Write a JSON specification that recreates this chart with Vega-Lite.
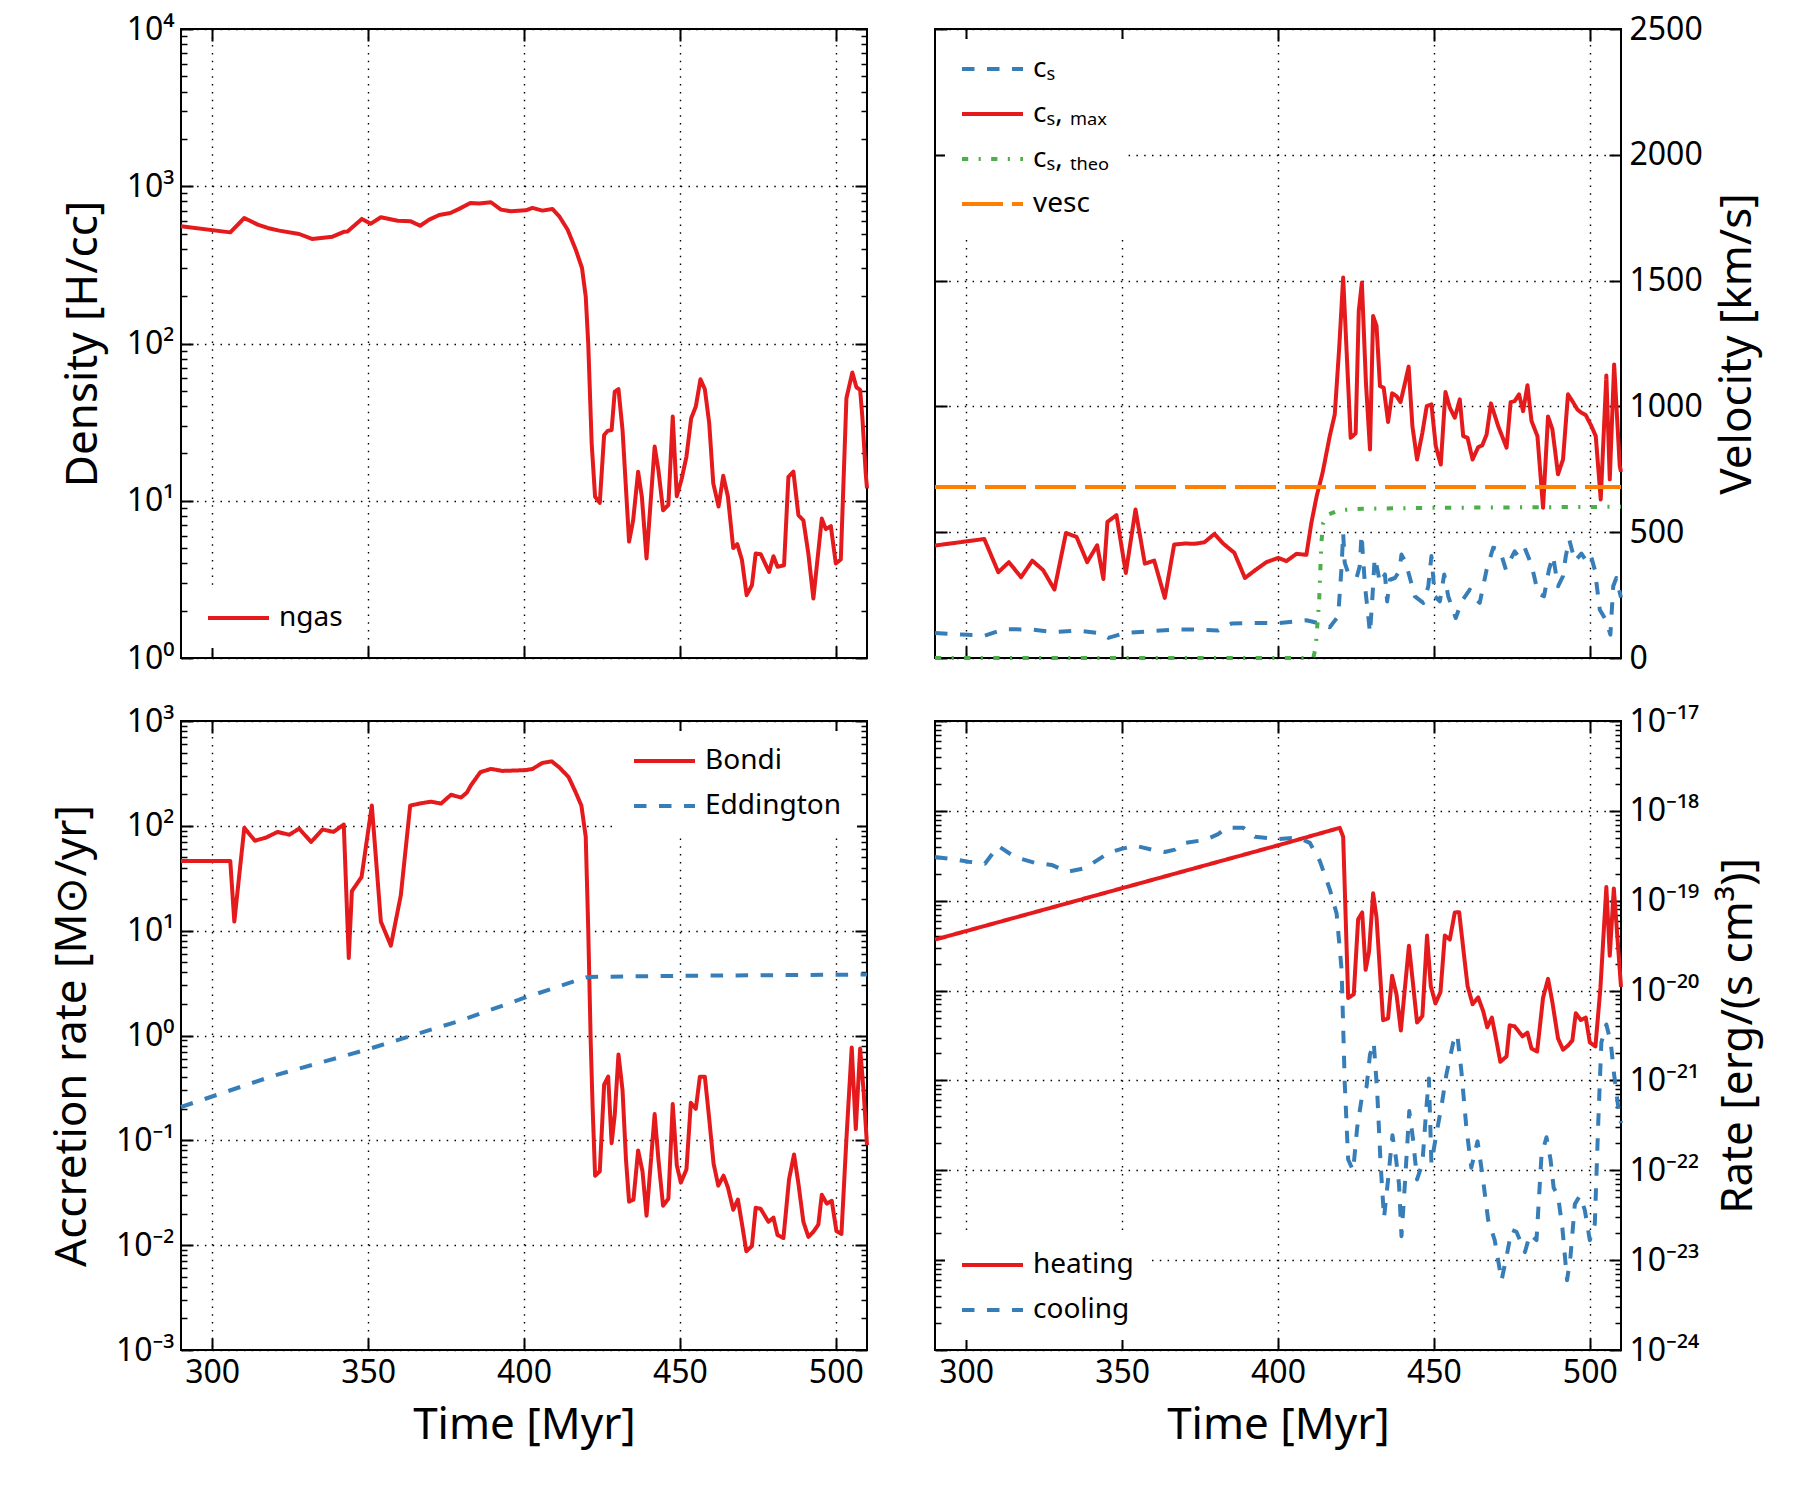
{
  "$schema": "https://vega.github.io/schema/vega-lite/v6.json",
  "padding": {"left": 49, "top": 12, "right": 5, "bottom": 5},
  "datasets": {
    "density": [
      {"t":290,"v":556,"s":"ngas"},{"t":305.8,"v":509,"s":"ngas"},{"t":310.3,"v":628,"s":"ngas"},{"t":314.6,"v":570,"s":"ngas"},{"t":317.8,"v":543,"s":"ngas"},{"t":321.5,"v":522,"s":"ngas"},{"t":327.9,"v":497,"s":"ngas"},{"t":332,"v":462,"s":"ngas"},{"t":338.6,"v":478,"s":"ngas"},{"t":342.4,"v":514,"s":"ngas"},{"t":343.4,"v":516,"s":"ngas"},{"t":348,"v":620,"s":"ngas"},{"t":350.9,"v":578,"s":"ngas"},{"t":354.1,"v":635,"s":"ngas"},{"t":359.5,"v":604,"s":"ngas"},{"t":363.7,"v":598,"s":"ngas"},{"t":366.7,"v":561,"s":"ngas"},{"t":369.6,"v":613,"s":"ngas"},{"t":372.8,"v":657,"s":"ngas"},{"t":376.4,"v":676,"s":"ngas"},{"t":379.2,"v":718,"s":"ngas"},{"t":382.8,"v":783,"s":"ngas"},{"t":385.6,"v":776,"s":"ngas"},{"t":389.4,"v":791,"s":"ngas"},{"t":392.6,"v":710,"s":"ngas"},{"t":395.8,"v":693,"s":"ngas"},{"t":400.6,"v":703,"s":"ngas"},{"t":402.7,"v":728,"s":"ngas"},{"t":405.9,"v":700,"s":"ngas"},{"t":409.1,"v":717,"s":"ngas"},{"t":411.3,"v":644,"s":"ngas"},{"t":414,"v":529,"s":"ngas"},{"t":416.6,"v":395,"s":"ngas"},{"t":418.6,"v":302,"s":"ngas"},{"t":419.8,"v":199,"s":"ngas"},{"t":420.6,"v":100,"s":"ngas"},{"t":421.7,"v":23.2,"s":"ngas"},{"t":422.8,"v":10.6,"s":"ngas"},{"t":424.3,"v":9.7,"s":"ngas"},{"t":425.7,"v":26.2,"s":"ngas"},{"t":426.8,"v":27.8,"s":"ngas"},{"t":428.1,"v":28.2,"s":"ngas"},{"t":429.1,"v":49.4,"s":"ngas"},{"t":430.3,"v":51.2,"s":"ngas"},{"t":431.6,"v":28.2,"s":"ngas"},{"t":433.7,"v":5.5,"s":"ngas"},{"t":435,"v":7.5,"s":"ngas"},{"t":436.6,"v":15.3,"s":"ngas"},{"t":437.8,"v":10.6,"s":"ngas"},{"t":439.3,"v":4.3,"s":"ngas"},{"t":441.9,"v":22.1,"s":"ngas"},{"t":443.1,"v":15.7,"s":"ngas"},{"t":444.6,"v":8.7,"s":"ngas"},{"t":446.3,"v":9.4,"s":"ngas"},{"t":447.7,"v":34.3,"s":"ngas"},{"t":449,"v":10.7,"s":"ngas"},{"t":450.5,"v":13.6,"s":"ngas"},{"t":452.1,"v":19.1,"s":"ngas"},{"t":453.6,"v":33.4,"s":"ngas"},{"t":455.1,"v":39.7,"s":"ngas"},{"t":456.6,"v":59.3,"s":"ngas"},{"t":458,"v":51.2,"s":"ngas"},{"t":459.4,"v":31.1,"s":"ngas"},{"t":460.7,"v":12.9,"s":"ngas"},{"t":462.4,"v":9.2,"s":"ngas"},{"t":463.9,"v":14.4,"s":"ngas"},{"t":465.4,"v":10.6,"s":"ngas"},{"t":467.1,"v":5.0,"s":"ngas"},{"t":468.4,"v":5.3,"s":"ngas"},{"t":469.9,"v":4.2,"s":"ngas"},{"t":471.4,"v":2.51,"s":"ngas"},{"t":473.1,"v":2.9,"s":"ngas"},{"t":474.3,"v":4.62,"s":"ngas"},{"t":475.9,"v":4.57,"s":"ngas"},{"t":478.6,"v":3.53,"s":"ngas"},{"t":480,"v":4.44,"s":"ngas"},{"t":481.3,"v":3.8,"s":"ngas"},{"t":483.4,"v":3.89,"s":"ngas"},{"t":484.8,"v":14.2,"s":"ngas"},{"t":486.4,"v":15.3,"s":"ngas"},{"t":488,"v":8.1,"s":"ngas"},{"t":489.6,"v":7.5,"s":"ngas"},{"t":491.2,"v":4.6,"s":"ngas"},{"t":492.8,"v":2.39,"s":"ngas"},{"t":495.5,"v":7.7,"s":"ngas"},{"t":496.8,"v":6.6,"s":"ngas"},{"t":498.4,"v":6.9,"s":"ngas"},{"t":500,"v":3.99,"s":"ngas"},{"t":501.6,"v":4.23,"s":"ngas"},{"t":503.4,"v":44.9,"s":"ngas"},{"t":505.3,"v":65.4,"s":"ngas"},{"t":506.6,"v":52.7,"s":"ngas"},{"t":507.8,"v":50.7,"s":"ngas"},{"t":508.5,"v":34.3,"s":"ngas"},{"t":509.6,"v":14.9,"s":"ngas"},{"t":510,"v":12,"s":"ngas"}
    ],
    "velocity": [
      {"t":290,"v":99,"s":"cₛ"},{"t":298.5,"v":93,"s":"cₛ"},{"t":306,"v":89,"s":"cₛ"},{"t":312.4,"v":115,"s":"cₛ"},{"t":321,"v":113,"s":"cₛ"},{"t":328.5,"v":103,"s":"cₛ"},{"t":336,"v":109,"s":"cₛ"},{"t":342.9,"v":99,"s":"cₛ"},{"t":345.6,"v":80,"s":"cₛ"},{"t":350.9,"v":99,"s":"cₛ"},{"t":358.4,"v":106,"s":"cₛ"},{"t":367,"v":113,"s":"cₛ"},{"t":374.4,"v":113,"s":"cₛ"},{"t":380.8,"v":109,"s":"cₛ"},{"t":385.1,"v":137,"s":"cₛ"},{"t":389.4,"v":139,"s":"cₛ"},{"t":400.1,"v":139,"s":"cₛ"},{"t":409.1,"v":150,"s":"cₛ"},{"t":412.9,"v":139,"s":"cₛ"},{"t":416.6,"v":122,"s":"cₛ"},{"t":419.3,"v":166,"s":"cₛ"},{"t":420.4,"v":365,"s":"cₛ"},{"t":420.9,"v":497,"s":"cₛ"},{"t":421.4,"v":378,"s":"cₛ"},{"t":422.5,"v":338,"s":"cₛ"},{"t":425.2,"v":318,"s":"cₛ"},{"t":426.2,"v":365,"s":"cₛ"},{"t":426.8,"v":491,"s":"cₛ"},{"t":427.9,"v":285,"s":"cₛ"},{"t":428.9,"v":172,"s":"cₛ"},{"t":429.5,"v":99,"s":"cₛ"},{"t":430.3,"v":245,"s":"cₛ"},{"t":431,"v":398,"s":"cₛ"},{"t":431.9,"v":351,"s":"cₛ"},{"t":432.7,"v":298,"s":"cₛ"},{"t":434.3,"v":332,"s":"cₛ"},{"t":435,"v":225,"s":"cₛ"},{"t":435.9,"v":311,"s":"cₛ"},{"t":437.5,"v":318,"s":"cₛ"},{"t":438.9,"v":345,"s":"cₛ"},{"t":439.6,"v":411,"s":"cₛ"},{"t":441,"v":378,"s":"cₛ"},{"t":443.9,"v":245,"s":"cₛ"},{"t":446.6,"v":219,"s":"cₛ"},{"t":448.2,"v":285,"s":"cₛ"},{"t":449.2,"v":405,"s":"cₛ"},{"t":450.3,"v":245,"s":"cₛ"},{"t":451.9,"v":225,"s":"cₛ"},{"t":453.3,"v":332,"s":"cₛ"},{"t":454.6,"v":245,"s":"cₛ"},{"t":457,"v":159,"s":"cₛ"},{"t":458.9,"v":225,"s":"cₛ"},{"t":461.5,"v":272,"s":"cₛ"},{"t":463.1,"v":239,"s":"cₛ"},{"t":464.7,"v":219,"s":"cₛ"},{"t":466.9,"v":351,"s":"cₛ"},{"t":469,"v":438,"s":"cₛ"},{"t":471.1,"v":431,"s":"cₛ"},{"t":473.1,"v":351,"s":"cₛ"},{"t":474.3,"v":385,"s":"cₛ"},{"t":475.9,"v":424,"s":"cₛ"},{"t":477,"v":405,"s":"cₛ"},{"t":479.1,"v":438,"s":"cₛ"},{"t":481.3,"v":371,"s":"cₛ"},{"t":483.4,"v":258,"s":"cₛ"},{"t":485.3,"v":245,"s":"cₛ"},{"t":486.9,"v":351,"s":"cₛ"},{"t":488.2,"v":405,"s":"cₛ"},{"t":489.8,"v":285,"s":"cₛ"},{"t":491.4,"v":325,"s":"cₛ"},{"t":492.3,"v":405,"s":"cₛ"},{"t":493.4,"v":471,"s":"cₛ"},{"t":495.2,"v":385,"s":"cₛ"},{"t":497.3,"v":415,"s":"cₛ"},{"t":498.9,"v":385,"s":"cₛ"},{"t":500.3,"v":408,"s":"cₛ"},{"t":501.6,"v":351,"s":"cₛ"},{"t":503.2,"v":192,"s":"cₛ"},{"t":505.1,"v":152,"s":"cₛ"},{"t":506.6,"v":93,"s":"cₛ"},{"t":507.5,"v":285,"s":"cₛ"},{"t":508.5,"v":318,"s":"cₛ"},{"t":510,"v":240,"s":"cₛ"},
      {"t":290,"v":447,"s":"cₛ, ₘₐₓ"},{"t":305.8,"v":473,"s":"cₛ, ₘₐₓ"},{"t":310.3,"v":341,"s":"cₛ, ₘₐₓ"},{"t":313.7,"v":381,"s":"cₛ, ₘₐₓ"},{"t":317.6,"v":321,"s":"cₛ, ₘₐₓ"},{"t":321.2,"v":387,"s":"cₛ, ₘₐₓ"},{"t":324.7,"v":349,"s":"cₛ, ₘₐₓ"},{"t":328.3,"v":272,"s":"cₛ, ₘₐₓ"},{"t":332,"v":497,"s":"cₛ, ₘₐₓ"},{"t":335.4,"v":481,"s":"cₛ, ₘₐₓ"},{"t":338.8,"v":381,"s":"cₛ, ₘₐₓ"},{"t":342,"v":448,"s":"cₛ, ₘₐₓ"},{"t":344,"v":314,"s":"cₛ, ₘₐₓ"},{"t":345.3,"v":541,"s":"cₛ, ₘₐₓ"},{"t":348.2,"v":568,"s":"cₛ, ₘₐₓ"},{"t":351.2,"v":338,"s":"cₛ, ₘₐₓ"},{"t":354.3,"v":590,"s":"cₛ, ₘₐₓ"},{"t":357.3,"v":375,"s":"cₛ, ₘₐₓ"},{"t":360.3,"v":387,"s":"cₛ, ₘₐₓ"},{"t":363.7,"v":239,"s":"cₛ, ₘₐₓ"},{"t":366.7,"v":451,"s":"cₛ, ₘₐₓ"},{"t":370.2,"v":455,"s":"cₛ, ₘₐₓ"},{"t":373.4,"v":454,"s":"cₛ, ₘₐₓ"},{"t":376.4,"v":460,"s":"cₛ, ₘₐₓ"},{"t":379.6,"v":493,"s":"cₛ, ₘₐₓ"},{"t":382.4,"v":455,"s":"cₛ, ₘₐₓ"},{"t":386,"v":418,"s":"cₛ, ₘₐₓ"},{"t":389.4,"v":318,"s":"cₛ, ₘₐₓ"},{"t":392.9,"v":351,"s":"cₛ, ₘₐₓ"},{"t":396.3,"v":381,"s":"cₛ, ₘₐₓ"},{"t":400.1,"v":398,"s":"cₛ, ₘₐₓ"},{"t":402.7,"v":385,"s":"cₛ, ₘₐₓ"},{"t":405.9,"v":414,"s":"cₛ, ₘₐₓ"},{"t":409.1,"v":410,"s":"cₛ, ₘₐₓ"},{"t":410.7,"v":537,"s":"cₛ, ₘₐₓ"},{"t":412.4,"v":643,"s":"cₛ, ₘₐₓ"},{"t":414.3,"v":736,"s":"cₛ, ₘₐₓ"},{"t":416.6,"v":882,"s":"cₛ, ₘₐₓ"},{"t":418.2,"v":968,"s":"cₛ, ₘₐₓ"},{"t":419.6,"v":1227,"s":"cₛ, ₘₐₓ"},{"t":420.9,"v":1512,"s":"cₛ, ₘₐₓ"},{"t":423.3,"v":875,"s":"cₛ, ₘₐₓ"},{"t":424.9,"v":893,"s":"cₛ, ₘₐₓ"},{"t":425.9,"v":1379,"s":"cₛ, ₘₐₓ"},{"t":426.9,"v":1492,"s":"cₛ, ₘₐₓ"},{"t":428.2,"v":1094,"s":"cₛ, ₘₐₓ"},{"t":429.5,"v":829,"s":"cₛ, ₘₐₓ"},{"t":430.5,"v":1359,"s":"cₛ, ₘₐₓ"},{"t":431.6,"v":1320,"s":"cₛ, ₘₐₓ"},{"t":432.7,"v":1081,"s":"cₛ, ₘₐₓ"},{"t":433.9,"v":1074,"s":"cₛ, ₘₐₓ"},{"t":435.3,"v":938,"s":"cₛ, ₘₐₓ"},{"t":436.6,"v":1052,"s":"cₛ, ₘₐₓ"},{"t":438,"v":1041,"s":"cₛ, ₘₐₓ"},{"t":439.3,"v":1017,"s":"cₛ, ₘₐₓ"},{"t":440.5,"v":1081,"s":"cₛ, ₘₐₓ"},{"t":441.9,"v":1158,"s":"cₛ, ₘₐₓ"},{"t":443.1,"v":922,"s":"cₛ, ₘₐₓ"},{"t":444.6,"v":789,"s":"cₛ, ₘₐₓ"},{"t":446.3,"v":895,"s":"cₛ, ₘₐₓ"},{"t":447.7,"v":1001,"s":"cₛ, ₘₐₓ"},{"t":449.2,"v":1008,"s":"cₛ, ₘₐₓ"},{"t":450.6,"v":842,"s":"cₛ, ₘₐₓ"},{"t":452.2,"v":769,"s":"cₛ, ₘₐₓ"},{"t":453.7,"v":1057,"s":"cₛ, ₘₐₓ"},{"t":455.1,"v":995,"s":"cₛ, ₘₐₓ"},{"t":456.7,"v":955,"s":"cₛ, ₘₐₓ"},{"t":458.3,"v":1028,"s":"cₛ, ₘₐₓ"},{"t":459.4,"v":882,"s":"cₛ, ₘₐₓ"},{"t":460.8,"v":875,"s":"cₛ, ₘₐₓ"},{"t":462.4,"v":789,"s":"cₛ, ₘₐₓ"},{"t":464.2,"v":838,"s":"cₛ, ₘₐₓ"},{"t":465.5,"v":845,"s":"cₛ, ₘₐₓ"},{"t":466.9,"v":888,"s":"cₛ, ₘₐₓ"},{"t":468.3,"v":1012,"s":"cₛ, ₘₐₓ"},{"t":470.6,"v":922,"s":"cₛ, ₘₐₓ"},{"t":473.3,"v":836,"s":"cₛ, ₘₐₓ"},{"t":474.6,"v":1017,"s":"cₛ, ₘₐₓ"},{"t":475.9,"v":1021,"s":"cₛ, ₘₐₓ"},{"t":477.3,"v":1048,"s":"cₛ, ₘₐₓ"},{"t":478.6,"v":981,"s":"cₛ, ₘₐₓ"},{"t":480,"v":1084,"s":"cₛ, ₘₐₓ"},{"t":481.3,"v":942,"s":"cₛ, ₘₐₓ"},{"t":483.2,"v":882,"s":"cₛ, ₘₐₓ"},{"t":485,"v":597,"s":"cₛ, ₘₐₓ"},{"t":486.6,"v":960,"s":"cₛ, ₘₐₓ"},{"t":488,"v":909,"s":"cₛ, ₘₐₓ"},{"t":489.8,"v":730,"s":"cₛ, ₘₐₓ"},{"t":491.4,"v":789,"s":"cₛ, ₘₐₓ"},{"t":493,"v":1048,"s":"cₛ, ₘₐₓ"},{"t":494.4,"v":1021,"s":"cₛ, ₘₐₓ"},{"t":496,"v":988,"s":"cₛ, ₘₐₓ"},{"t":497.3,"v":975,"s":"cₛ, ₘₐₓ"},{"t":498.7,"v":965,"s":"cₛ, ₘₐₓ"},{"t":500.5,"v":922,"s":"cₛ, ₘₐₓ"},{"t":501.9,"v":882,"s":"cₛ, ₘₐₓ"},{"t":503.5,"v":630,"s":"cₛ, ₘₐₓ"},{"t":505.3,"v":1123,"s":"cₛ, ₘₐₓ"},{"t":506.4,"v":710,"s":"cₛ, ₘₐₓ"},{"t":507.8,"v":1167,"s":"cₛ, ₘₐₓ"},{"t":509.6,"v":763,"s":"cₛ, ₘₐₓ"},{"t":510,"v":740,"s":"cₛ, ₘₐₓ"},
      {"t":290,"v":0,"s":"cₛ, ₜₕₑₒ"},{"t":411.3,"v":0,"s":"cₛ, ₜₕₑₒ"},{"t":412.1,"v":42,"s":"cₛ, ₜₕₑₒ"},{"t":413.2,"v":228,"s":"cₛ, ₜₕₑₒ"},{"t":413.9,"v":457,"s":"cₛ, ₜₕₑₒ"},{"t":414.5,"v":537,"s":"cₛ, ₜₕₑₒ"},{"t":416.1,"v":570,"s":"cₛ, ₜₕₑₒ"},{"t":419.8,"v":588,"s":"cₛ, ₜₕₑₒ"},{"t":427.3,"v":593,"s":"cₛ, ₜₕₑₒ"},{"t":449.8,"v":597,"s":"cₛ, ₜₕₑₒ"},{"t":510,"v":601,"s":"cₛ, ₜₕₑₒ"},
      {"t":290,"v":680,"s":"vesc"},{"t":510,"v":680,"s":"vesc"}
    ],
    "accretion": [
      {"t":290,"v":46.3,"s":"Bondi"},{"t":305.8,"v":46.3,"s":"Bondi"},{"t":307.1,"v":12.2,"s":"Bondi"},{"t":310.3,"v":95.7,"s":"Bondi"},{"t":313.7,"v":72.1,"s":"Bondi"},{"t":317.3,"v":77.3,"s":"Bondi"},{"t":321,"v":87.5,"s":"Bondi"},{"t":324.7,"v":82.2,"s":"Bondi"},{"t":327.9,"v":94,"s":"Bondi"},{"t":331.7,"v":70.2,"s":"Bondi"},{"t":335.4,"v":92.3,"s":"Bondi"},{"t":338.9,"v":87.5,"s":"Bondi"},{"t":342.2,"v":103,"s":"Bondi"},{"t":343.8,"v":5.5,"s":"Bondi"},{"t":344.8,"v":23.8,"s":"Bondi"},{"t":347.9,"v":32.5,"s":"Bondi"},{"t":351.2,"v":156,"s":"Bondi"},{"t":354.1,"v":12.2,"s":"Bondi"},{"t":357.3,"v":7.2,"s":"Bondi"},{"t":360.5,"v":21.8,"s":"Bondi"},{"t":363.5,"v":156,"s":"Bondi"},{"t":366.9,"v":164,"s":"Bondi"},{"t":370.2,"v":170,"s":"Bondi"},{"t":373.4,"v":163,"s":"Bondi"},{"t":376.6,"v":198,"s":"Bondi"},{"t":379.8,"v":186,"s":"Bondi"},{"t":381.7,"v":208,"s":"Bondi"},{"t":383,"v":244,"s":"Bondi"},{"t":386,"v":325,"s":"Bondi"},{"t":389.4,"v":349,"s":"Bondi"},{"t":393.1,"v":334,"s":"Bondi"},{"t":400.6,"v":340,"s":"Bondi"},{"t":402.7,"v":349,"s":"Bondi"},{"t":405.9,"v":398,"s":"Bondi"},{"t":408.9,"v":412,"s":"Bondi"},{"t":411.3,"v":361,"s":"Bondi"},{"t":414.3,"v":292,"s":"Bondi"},{"t":416.6,"v":208,"s":"Bondi"},{"t":418.4,"v":156,"s":"Bondi"},{"t":419.8,"v":78.7,"s":"Bondi"},{"t":420.6,"v":10.3,"s":"Bondi"},{"t":421.4,"v":0.86,"s":"Bondi"},{"t":422,"v":0.21,"s":"Bondi"},{"t":422.8,"v":0.046,"s":"Bondi"},{"t":424.3,"v":0.0506,"s":"Bondi"},{"t":425.7,"v":0.34,"s":"Bondi"},{"t":427,"v":0.405,"s":"Bondi"},{"t":428.1,"v":0.094,"s":"Bondi"},{"t":429.1,"v":0.175,"s":"Bondi"},{"t":430.3,"v":0.66,"s":"Bondi"},{"t":431.6,"v":0.3,"s":"Bondi"},{"t":432.7,"v":0.066,"s":"Bondi"},{"t":433.7,"v":0.026,"s":"Bondi"},{"t":435.1,"v":0.0272,"s":"Bondi"},{"t":436.6,"v":0.08,"s":"Bondi"},{"t":438,"v":0.0506,"s":"Bondi"},{"t":439.3,"v":0.0191,"s":"Bondi"},{"t":441.9,"v":0.178,"s":"Bondi"},{"t":443.1,"v":0.066,"s":"Bondi"},{"t":444.6,"v":0.0238,"s":"Bondi"},{"t":446.3,"v":0.0277,"s":"Bondi"},{"t":447.7,"v":0.222,"s":"Bondi"},{"t":449,"v":0.0578,"s":"Bondi"},{"t":450.3,"v":0.0395,"s":"Bondi"},{"t":452.1,"v":0.0528,"s":"Bondi"},{"t":453.5,"v":0.228,"s":"Bondi"},{"t":455.1,"v":0.2,"s":"Bondi"},{"t":456.4,"v":0.405,"s":"Bondi"},{"t":458,"v":0.405,"s":"Bondi"},{"t":459.4,"v":0.16,"s":"Bondi"},{"t":460.8,"v":0.06,"s":"Bondi"},{"t":462.3,"v":0.037,"s":"Bondi"},{"t":464,"v":0.046,"s":"Bondi"},{"t":465.4,"v":0.0355,"s":"Bondi"},{"t":467.1,"v":0.0218,"s":"Bondi"},{"t":468.6,"v":0.0272,"s":"Bondi"},{"t":469.9,"v":0.016,"s":"Bondi"},{"t":471.3,"v":0.00875,"s":"Bondi"},{"t":473.1,"v":0.0098,"s":"Bondi"},{"t":474.3,"v":0.0228,"s":"Bondi"},{"t":475.9,"v":0.0222,"s":"Bondi"},{"t":478.4,"v":0.0167,"s":"Bondi"},{"t":480,"v":0.0183,"s":"Bondi"},{"t":481.3,"v":0.0125,"s":"Bondi"},{"t":483.2,"v":0.0117,"s":"Bondi"},{"t":485,"v":0.0424,"s":"Bondi"},{"t":486.6,"v":0.0733,"s":"Bondi"},{"t":488,"v":0.0388,"s":"Bondi"},{"t":489.6,"v":0.0167,"s":"Bondi"},{"t":491.2,"v":0.012,"s":"Bondi"},{"t":492.8,"v":0.0134,"s":"Bondi"},{"t":494.4,"v":0.0157,"s":"Bondi"},{"t":495.5,"v":0.0303,"s":"Bondi"},{"t":497.1,"v":0.0249,"s":"Bondi"},{"t":498.7,"v":0.0265,"s":"Bondi"},{"t":500.2,"v":0.0136,"s":"Bondi"},{"t":501.8,"v":0.0128,"s":"Bondi"},{"t":503.4,"v":0.103,"s":"Bondi"},{"t":505.1,"v":0.77,"s":"Bondi"},{"t":506.4,"v":0.128,"s":"Bondi"},{"t":507.8,"v":0.75,"s":"Bondi"},{"t":508.9,"v":0.297,"s":"Bondi"},{"t":510,"v":0.09,"s":"Bondi"},
      {"t":290,"v":0.208,"s":"Eddington"},{"t":320,"v":0.416,"s":"Eddington"},{"t":350,"v":0.74,"s":"Eddington"},{"t":380,"v":1.4,"s":"Eddington"},{"t":400,"v":2.28,"s":"Eddington"},{"t":419.8,"v":3.58,"s":"Eddington"},{"t":421,"v":3.62,"s":"Eddington"},{"t":450,"v":3.71,"s":"Eddington"},{"t":480,"v":3.76,"s":"Eddington"},{"t":510,"v":3.82,"s":"Eddington"}
    ],
    "rates": [
      {"t":290,"v":3.69e-20,"s":"heating"},{"t":400.6,"v":4.19e-19,"s":"heating"},{"t":419.8,"v":6.47e-19,"s":"heating"},{"t":420.9,"v":5.15e-19,"s":"heating"},{"t":422.5,"v":8.26e-21,"s":"heating"},{"t":424.3,"v":9.1e-21,"s":"heating"},{"t":425.7,"v":6.2e-20,"s":"heating"},{"t":427,"v":7.4e-20,"s":"heating"},{"t":428.1,"v":1.7e-20,"s":"heating"},{"t":429.2,"v":2.71e-20,"s":"heating"},{"t":430.5,"v":1.21e-19,"s":"heating"},{"t":431.6,"v":6.5e-20,"s":"heating"},{"t":432.7,"v":1.62e-20,"s":"heating"},{"t":433.7,"v":4.68e-21,"s":"heating"},{"t":435.3,"v":4.9e-21,"s":"heating"},{"t":436.6,"v":1.46e-20,"s":"heating"},{"t":438,"v":9.1e-21,"s":"heating"},{"t":439.4,"v":3.6e-21,"s":"heating"},{"t":442,"v":3.16e-20,"s":"heating"},{"t":443.1,"v":1.38e-20,"s":"heating"},{"t":444.6,"v":4.4e-21,"s":"heating"},{"t":446.3,"v":5.2e-21,"s":"heating"},{"t":447.8,"v":4.1e-20,"s":"heating"},{"t":449,"v":1.12e-20,"s":"heating"},{"t":450.5,"v":7.2e-21,"s":"heating"},{"t":452.1,"v":9.6e-21,"s":"heating"},{"t":453.5,"v":4.1e-20,"s":"heating"},{"t":455.1,"v":3.7e-20,"s":"heating"},{"t":456.7,"v":7.4e-20,"s":"heating"},{"t":458.1,"v":7.45e-20,"s":"heating"},{"t":459.6,"v":2.57e-20,"s":"heating"},{"t":460.8,"v":1.12e-20,"s":"heating"},{"t":462.4,"v":7.06e-21,"s":"heating"},{"t":464.2,"v":8.4e-21,"s":"heating"},{"t":465.8,"v":5.9e-21,"s":"heating"},{"t":467.1,"v":3.9e-21,"s":"heating"},{"t":468.6,"v":5.0e-21,"s":"heating"},{"t":469.9,"v":2.94e-21,"s":"heating"},{"t":471.3,"v":1.61e-21,"s":"heating"},{"t":473.3,"v":1.85e-21,"s":"heating"},{"t":474.3,"v":4.1e-21,"s":"heating"},{"t":475.9,"v":4.0e-21,"s":"heating"},{"t":478.4,"v":3.1e-21,"s":"heating"},{"t":480,"v":3.4e-21,"s":"heating"},{"t":481.3,"v":2.26e-21,"s":"heating"},{"t":483.1,"v":2.1e-21,"s":"heating"},{"t":485,"v":8.3e-21,"s":"heating"},{"t":486.6,"v":1.35e-20,"s":"heating"},{"t":488,"v":7.4e-21,"s":"heating"},{"t":489.8,"v":2.94e-21,"s":"heating"},{"t":491.4,"v":2.2e-21,"s":"heating"},{"t":493,"v":2.44e-21,"s":"heating"},{"t":494.4,"v":2.79e-21,"s":"heating"},{"t":495.5,"v":5.6e-21,"s":"heating"},{"t":497.1,"v":4.7e-21,"s":"heating"},{"t":498.7,"v":5.0e-21,"s":"heating"},{"t":500,"v":2.65e-21,"s":"heating"},{"t":501.8,"v":2.39e-21,"s":"heating"},{"t":503.4,"v":1.07e-20,"s":"heating"},{"t":505.3,"v":1.42e-19,"s":"heating"},{"t":506.4,"v":2.44e-20,"s":"heating"},{"t":507.7,"v":1.37e-19,"s":"heating"},{"t":508.9,"v":3.7e-20,"s":"heating"},{"t":510,"v":1.1e-20,"s":"heating"},
      {"t":290,"v":3.07e-19,"s":"cooling"},{"t":295.3,"v":2.92e-19,"s":"cooling"},{"t":300.7,"v":2.72e-19,"s":"cooling"},{"t":306,"v":2.58e-19,"s":"cooling"},{"t":310.3,"v":4.06e-19,"s":"cooling"},{"t":315.6,"v":3.07e-19,"s":"cooling"},{"t":322.1,"v":2.63e-19,"s":"cooling"},{"t":327.4,"v":2.5e-19,"s":"cooling"},{"t":332.5,"v":2.1e-19,"s":"cooling"},{"t":338.1,"v":2.3e-19,"s":"cooling"},{"t":345.6,"v":3.4e-19,"s":"cooling"},{"t":349.8,"v":3.77e-19,"s":"cooling"},{"t":354.1,"v":4.1e-19,"s":"cooling"},{"t":359.5,"v":3.7e-19,"s":"cooling"},{"t":363.7,"v":3.48e-19,"s":"cooling"},{"t":366.9,"v":3.7e-19,"s":"cooling"},{"t":370.2,"v":4.41e-19,"s":"cooling"},{"t":376.6,"v":4.75e-19,"s":"cooling"},{"t":380.8,"v":5.5e-19,"s":"cooling"},{"t":383.5,"v":6.47e-19,"s":"cooling"},{"t":388.9,"v":6.47e-19,"s":"cooling"},{"t":392.6,"v":5.15e-19,"s":"cooling"},{"t":400.1,"v":4.84e-19,"s":"cooling"},{"t":406.5,"v":5.04e-19,"s":"cooling"},{"t":410.2,"v":4.41e-19,"s":"cooling"},{"t":413.4,"v":2.77e-19,"s":"cooling"},{"t":416.6,"v":1.34e-19,"s":"cooling"},{"t":418.8,"v":7.2e-20,"s":"cooling"},{"t":420.4,"v":1.7e-20,"s":"cooling"},{"t":421.4,"v":9.4e-22,"s":"cooling"},{"t":422.5,"v":1.32e-22,"s":"cooling"},{"t":424.1,"v":9.9e-23,"s":"cooling"},{"t":425.4,"v":3.0e-22,"s":"cooling"},{"t":426.8,"v":6.2e-22,"s":"cooling"},{"t":428.4,"v":8.5e-22,"s":"cooling"},{"t":429.5,"v":1.94e-21,"s":"cooling"},{"t":430.7,"v":2.65e-21,"s":"cooling"},{"t":431.8,"v":7.65e-22,"s":"cooling"},{"t":432.9,"v":1.19e-22,"s":"cooling"},{"t":434,"v":2.95e-23,"s":"cooling"},{"t":435.3,"v":7.9e-23,"s":"cooling"},{"t":436.7,"v":2.46e-22,"s":"cooling"},{"t":437.8,"v":1.39e-22,"s":"cooling"},{"t":438.8,"v":7.1e-23,"s":"cooling"},{"t":439.6,"v":1.85e-23,"s":"cooling"},{"t":440.7,"v":7.1e-23,"s":"cooling"},{"t":442.1,"v":4.57e-22,"s":"cooling"},{"t":443.3,"v":2.22e-22,"s":"cooling"},{"t":444.6,"v":7.9e-23,"s":"cooling"},{"t":446.3,"v":1.19e-22,"s":"cooling"},{"t":447.6,"v":5.07e-22,"s":"cooling"},{"t":448.4,"v":1.05e-21,"s":"cooling"},{"t":449.2,"v":1.19e-22,"s":"cooling"},{"t":450.6,"v":2.33e-22,"s":"cooling"},{"t":452.4,"v":5.1e-22,"s":"cooling"},{"t":454,"v":1.16e-21,"s":"cooling"},{"t":456.2,"v":2.65e-21,"s":"cooling"},{"t":457.5,"v":3.25e-21,"s":"cooling"},{"t":458.8,"v":1.28e-21,"s":"cooling"},{"t":460.4,"v":3.0e-22,"s":"cooling"},{"t":462,"v":1.07e-22,"s":"cooling"},{"t":464,"v":2.1e-22,"s":"cooling"},{"t":465.6,"v":8.7e-23,"s":"cooling"},{"t":467.4,"v":2.8e-23,"s":"cooling"},{"t":469.5,"v":1.67e-23,"s":"cooling"},{"t":471.7,"v":5.96e-24,"s":"cooling"},{"t":473.3,"v":1.1e-23,"s":"cooling"},{"t":474.9,"v":2.17e-23,"s":"cooling"},{"t":476.5,"v":2.06e-23,"s":"cooling"},{"t":479.2,"v":1.23e-23,"s":"cooling"},{"t":480.8,"v":1.95e-23,"s":"cooling"},{"t":482.9,"v":1.67e-23,"s":"cooling"},{"t":484.5,"v":1.47e-22,"s":"cooling"},{"t":486.1,"v":2.33e-22,"s":"cooling"},{"t":487.4,"v":1.32e-22,"s":"cooling"},{"t":488.4,"v":6.4e-23,"s":"cooling"},{"t":489.8,"v":5.2e-23,"s":"cooling"},{"t":491.2,"v":2.28e-23,"s":"cooling"},{"t":492.7,"v":5.96e-24,"s":"cooling"},{"t":493.8,"v":1.1e-23,"s":"cooling"},{"t":495.2,"v":4.2e-23,"s":"cooling"},{"t":496.8,"v":5.2e-23,"s":"cooling"},{"t":498.4,"v":3.6e-23,"s":"cooling"},{"t":500,"v":1.67e-23,"s":"cooling"},{"t":501.6,"v":2.53e-23,"s":"cooling"},{"t":502.7,"v":3.35e-22,"s":"cooling"},{"t":503.7,"v":2.65e-21,"s":"cooling"},{"t":505.3,"v":4.2e-21,"s":"cooling"},{"t":506.7,"v":2.65e-21,"s":"cooling"},{"t":507.8,"v":1.16e-21,"s":"cooling"},{"t":509.1,"v":5.1e-22,"s":"cooling"},{"t":510,"v":3.35e-22,"s":"cooling"}
    ]
  },
  "columns": 2,
  "spacing": {"row": 63, "column": 68},
  "bounds": "flush",
  "concat": [
    {
      "width": 686, "height": 629,
      "data": {"name": "density"},
      "layer": [
        {
          "mark": {"type": "line"},
          "encoding": {
            "x": {"field": "t", "type": "quantitative", "scale": {"domain": [290, 510], "nice": false, "zero": false},
                  "axis": {"orient": "bottom", "values": [300, 350, 400, 450, 500], "grid": true, "labels": false, "title": null}},
            "y": {"field": "v", "type": "quantitative", "scale": {"type": "log", "domain": [1, 10000], "nice": false},
                  "axis": {"orient": "left", "values": [1, 10, 100, 1000, 10000], "grid": true, "labelPadding": 19, "title": "Density [H/cc]", "titlePadding": 21,
                           "labelExpr": "'10' + replace(replace(replace(replace(replace(replace(replace(replace(replace(replace(replace('' + round(log(datum.value) / LN10), regexp('-', 'g'), '⁻'), regexp('0', 'g'), '⁰'), regexp('1', 'g'), '¹'), regexp('2', 'g'), '²'), regexp('3', 'g'), '³'), regexp('4', 'g'), '⁴'), regexp('5', 'g'), '⁵'), regexp('6', 'g'), '⁶'), regexp('7', 'g'), '⁷'), regexp('8', 'g'), '⁸'), regexp('9', 'g'), '⁹')"}},
            "color": {"field": "s", "type": "nominal", "scale": {"domain": ["ngas"], "range": ["#e41a1c"]}, "legend": {"title": null, "orient": "bottom-left"}}
          }
        },
        {
          "mark": {"type": "line", "opacity": 0},
          "encoding": {
            "x": {"field": "t", "type": "quantitative", "scale": {"domain": [290, 510], "nice": false, "zero": false},
                  "axis": {"orient": "top", "values": [300, 350, 400, 450, 500], "grid": false, "labels": false, "title": null}},
            "y": {"field": "v", "type": "quantitative", "scale": {"type": "log", "domain": [1, 10000], "nice": false},
                  "axis": {"orient": "right", "values": [1, 10, 100, 1000, 10000], "grid": false, "labels": false, "title": null}}
          }
        },
        {
          "mark": {"type": "line", "opacity": 0},
          "encoding": {
            "x": {"field": "t", "type": "quantitative", "axis": null},
            "y": {"field": "v", "type": "quantitative",
                  "axis": {"orient": "left", "values": [2,3,4,5,6,7,8,9,20,30,40,50,60,70,80,90,200,300,400,500,600,700,800,900,2000,3000,4000,5000,6000,7000,8000,9000], "grid": false, "labels": false, "title": null, "tickSize": -6, "tickWidth": 1.5}}
          }
        },
        {
          "mark": {"type": "line", "opacity": 0},
          "encoding": {
            "x": {"field": "t", "type": "quantitative", "axis": null},
            "y": {"field": "v", "type": "quantitative",
                  "axis": {"orient": "right", "values": [2,3,4,5,6,7,8,9,20,30,40,50,60,70,80,90,200,300,400,500,600,700,800,900,2000,3000,4000,5000,6000,7000,8000,9000], "grid": false, "labels": false, "title": null, "tickSize": -6, "tickWidth": 1.5}}
          }
        }
      ],
      "resolve": {"axis": {"x": "independent", "y": "independent"}}
    },
    {
      "width": 686, "height": 629,
      "data": {"name": "velocity"},
      "layer": [
        {
          "mark": {"type": "line"},
          "encoding": {
            "x": {"field": "t", "type": "quantitative", "scale": {"domain": [290, 510], "nice": false, "zero": false},
                  "axis": {"orient": "bottom", "values": [300, 350, 400, 450, 500], "grid": true, "labels": false, "title": null}},
            "y": {"field": "v", "type": "quantitative", "scale": {"domain": [0, 2500], "nice": false},
                  "axis": {"orient": "right", "values": [0, 500, 1000, 1500, 2000, 2500], "format": "d", "grid": true, "labelPadding": 20, "title": "Velocity [km/s]", "titlePadding": 13, "titleAngle": 270, "titleBaseline": "top"}},
            "color": {"field": "s", "type": "nominal", "scale": {"domain": ["cₛ", "cₛ, ₘₐₓ", "cₛ, ₜₕₑₒ", "vesc"], "range": ["#377eb8", "#e41a1c", "#4daf4a", "#ff7f00"]}, "legend": {"title": null, "orient": "top-left"}},
            "strokeDash": {"field": "s", "type": "nominal", "scale": {"domain": ["cₛ", "cₛ, ₘₐₓ", "cₛ, ₜₕₑₒ", "vesc"], "range": [[12.5, 12.5], [1, 0], [6.25, 10.4, 2.1, 10.4], [41, 9]]}, "legend": {"title": null, "orient": "top-left"}}
          }
        },
        {
          "mark": {"type": "line", "opacity": 0},
          "encoding": {
            "x": {"field": "t", "type": "quantitative", "scale": {"domain": [290, 510], "nice": false, "zero": false},
                  "axis": {"orient": "top", "values": [300, 350, 400, 450, 500], "grid": false, "labels": false, "title": null}},
            "y": {"field": "v", "type": "quantitative", "scale": {"domain": [0, 2500], "nice": false},
                  "axis": {"orient": "left", "values": [0, 500, 1000, 1500, 2000, 2500], "grid": false, "labels": false, "title": null}}
          }
        }
      ],
      "resolve": {"axis": {"x": "independent", "y": "independent"}}
    },
    {
      "width": 686, "height": 629,
      "data": {"name": "accretion"},
      "layer": [
        {
          "mark": {"type": "line"},
          "encoding": {
            "x": {"field": "t", "type": "quantitative", "scale": {"domain": [290, 510], "nice": false, "zero": false},
                  "axis": {"orient": "bottom", "values": [300, 350, 400, 450, 500], "format": "d", "grid": true, "labels": true, "labelPadding": 19, "title": "Time [Myr]", "titlePadding": 15}},
            "y": {"field": "v", "type": "quantitative", "scale": {"type": "log", "domain": [0.001, 1000], "nice": false},
                  "axis": {"orient": "left", "values": [0.001, 0.01, 0.1, 1, 10, 100, 1000], "grid": true, "labelPadding": 19, "title": "Accretion rate [M⊙/yr]", "titlePadding": 21,
                           "labelExpr": "'10' + replace(replace(replace(replace(replace(replace(replace(replace(replace(replace(replace('' + round(log(datum.value) / LN10), regexp('-', 'g'), '⁻'), regexp('0', 'g'), '⁰'), regexp('1', 'g'), '¹'), regexp('2', 'g'), '²'), regexp('3', 'g'), '³'), regexp('4', 'g'), '⁴'), regexp('5', 'g'), '⁵'), regexp('6', 'g'), '⁶'), regexp('7', 'g'), '⁷'), regexp('8', 'g'), '⁸'), regexp('9', 'g'), '⁹')"}},
            "color": {"field": "s", "type": "nominal", "scale": {"domain": ["Bondi", "Eddington"], "range": ["#e41a1c", "#377eb8"]}, "legend": {"title": null, "orient": "top-right"}},
            "strokeDash": {"field": "s", "type": "nominal", "scale": {"domain": ["Bondi", "Eddington"], "range": [[1, 0], [12.5, 12.5]]}, "legend": {"title": null, "orient": "top-right"}}
          }
        },
        {
          "mark": {"type": "line", "opacity": 0},
          "encoding": {
            "x": {"field": "t", "type": "quantitative", "scale": {"domain": [290, 510], "nice": false, "zero": false},
                  "axis": {"orient": "top", "values": [300, 350, 400, 450, 500], "grid": false, "labels": false, "title": null}},
            "y": {"field": "v", "type": "quantitative", "scale": {"type": "log", "domain": [0.001, 1000], "nice": false},
                  "axis": {"orient": "right", "values": [0.001, 0.01, 0.1, 1, 10, 100, 1000], "grid": false, "labels": false, "title": null}}
          }
        },
        {
          "mark": {"type": "line", "opacity": 0},
          "encoding": {
            "x": {"field": "t", "type": "quantitative", "axis": null},
            "y": {"field": "v", "type": "quantitative",
                  "axis": {"orient": "left", "values": [0.002,0.003,0.004,0.005,0.006,0.007,0.008,0.009,0.02,0.03,0.04,0.05,0.06,0.07,0.08,0.09,0.2,0.3,0.4,0.5,0.6,0.7,0.8,0.9,2,3,4,5,6,7,8,9,20,30,40,50,60,70,80,90,200,300,400,500,600,700,800,900], "grid": false, "labels": false, "title": null, "tickSize": -6, "tickWidth": 1.5}}
          }
        },
        {
          "mark": {"type": "line", "opacity": 0},
          "encoding": {
            "x": {"field": "t", "type": "quantitative", "axis": null},
            "y": {"field": "v", "type": "quantitative",
                  "axis": {"orient": "right", "values": [0.002,0.003,0.004,0.005,0.006,0.007,0.008,0.009,0.02,0.03,0.04,0.05,0.06,0.07,0.08,0.09,0.2,0.3,0.4,0.5,0.6,0.7,0.8,0.9,2,3,4,5,6,7,8,9,20,30,40,50,60,70,80,90,200,300,400,500,600,700,800,900], "grid": false, "labels": false, "title": null, "tickSize": -6, "tickWidth": 1.5}}
          }
        }
      ],
      "resolve": {"axis": {"x": "independent", "y": "independent"}}
    },
    {
      "width": 686, "height": 629,
      "data": {"name": "rates"},
      "layer": [
        {
          "mark": {"type": "line"},
          "encoding": {
            "x": {"field": "t", "type": "quantitative", "scale": {"domain": [290, 510], "nice": false, "zero": false},
                  "axis": {"orient": "bottom", "values": [300, 350, 400, 450, 500], "format": "d", "grid": true, "labels": true, "labelPadding": 19, "title": "Time [Myr]", "titlePadding": 15}},
            "y": {"field": "v", "type": "quantitative", "scale": {"type": "log", "domain": [1e-24, 1e-17], "nice": false},
                  "axis": {"orient": "right", "values": [1e-24, 1e-23, 1e-22, 1e-21, 1e-20, 1e-19, 1e-18, 1e-17], "grid": true, "labelPadding": 20, "title": "Rate [erg/(s cm³)]", "titlePadding": 18, "titleAngle": 270, "titleBaseline": "top",
                           "labelExpr": "'10' + replace(replace(replace(replace(replace(replace(replace(replace(replace(replace(replace('' + round(log(datum.value) / LN10), regexp('-', 'g'), '⁻'), regexp('0', 'g'), '⁰'), regexp('1', 'g'), '¹'), regexp('2', 'g'), '²'), regexp('3', 'g'), '³'), regexp('4', 'g'), '⁴'), regexp('5', 'g'), '⁵'), regexp('6', 'g'), '⁶'), regexp('7', 'g'), '⁷'), regexp('8', 'g'), '⁸'), regexp('9', 'g'), '⁹')"}},
            "color": {"field": "s", "type": "nominal", "scale": {"domain": ["heating", "cooling"], "range": ["#e41a1c", "#377eb8"]}, "legend": {"title": null, "orient": "bottom-left"}},
            "strokeDash": {"field": "s", "type": "nominal", "scale": {"domain": ["heating", "cooling"], "range": [[1, 0], [12.5, 12.5]]}, "legend": {"title": null, "orient": "bottom-left"}}
          }
        },
        {
          "mark": {"type": "line", "opacity": 0},
          "encoding": {
            "x": {"field": "t", "type": "quantitative", "scale": {"domain": [290, 510], "nice": false, "zero": false},
                  "axis": {"orient": "top", "values": [300, 350, 400, 450, 500], "grid": false, "labels": false, "title": null}},
            "y": {"field": "v", "type": "quantitative", "scale": {"type": "log", "domain": [1e-24, 1e-17], "nice": false},
                  "axis": {"orient": "left", "values": [1e-24, 1e-23, 1e-22, 1e-21, 1e-20, 1e-19, 1e-18, 1e-17], "grid": false, "labels": false, "title": null}}
          }
        },
        {
          "mark": {"type": "line", "opacity": 0},
          "encoding": {
            "x": {"field": "t", "type": "quantitative", "axis": null},
            "y": {"field": "v", "type": "quantitative",
                  "axis": {"orient": "left", "values": [2e-24,3e-24,4e-24,5e-24,6e-24,7e-24,8e-24,9e-24,2e-23,3e-23,4e-23,5e-23,6e-23,7e-23,8e-23,9e-23,2e-22,3e-22,4e-22,5e-22,6e-22,7e-22,8e-22,9e-22,2e-21,3e-21,4e-21,5e-21,6e-21,7e-21,8e-21,9e-21,2e-20,3e-20,4e-20,5e-20,6e-20,7e-20,8e-20,9e-20,2e-19,3e-19,4e-19,5e-19,6e-19,7e-19,8e-19,9e-19,2e-18,3e-18,4e-18,5e-18,6e-18,7e-18,8e-18,9e-18], "grid": false, "labels": false, "title": null, "tickSize": -6, "tickWidth": 1.5}}
          }
        },
        {
          "mark": {"type": "line", "opacity": 0},
          "encoding": {
            "x": {"field": "t", "type": "quantitative", "axis": null},
            "y": {"field": "v", "type": "quantitative",
                  "axis": {"orient": "right", "values": [2e-24,3e-24,4e-24,5e-24,6e-24,7e-24,8e-24,9e-24,2e-23,3e-23,4e-23,5e-23,6e-23,7e-23,8e-23,9e-23,2e-22,3e-22,4e-22,5e-22,6e-22,7e-22,8e-22,9e-22,2e-21,3e-21,4e-21,5e-21,6e-21,7e-21,8e-21,9e-21,2e-20,3e-20,4e-20,5e-20,6e-20,7e-20,8e-20,9e-20,2e-19,3e-19,4e-19,5e-19,6e-19,7e-19,8e-19,9e-19,2e-18,3e-18,4e-18,5e-18,6e-18,7e-18,8e-18,9e-18], "grid": false, "labels": false, "title": null, "tickSize": -6, "tickWidth": 1.5}}
          }
        }
      ],
      "resolve": {"axis": {"x": "independent", "y": "independent"}}
    }
  ],
  "resolve": {"scale": {"color": "independent", "strokeDash": "independent"}},
  "config": {
    "font": "Noto Sans",
    "background": "white",
    "view": {"stroke": "black", "strokeWidth": 2},
    "line": {"strokeWidth": 4, "strokeJoin": "round", "clip": true},
    "axis": {
      "domain": false,
      "tickColor": "black",
      "tickWidth": 2,
      "tickSize": -12,
      "labelFont": "Noto Sans",
      "labelFontSize": 32,
      "labelColor": "black",
      "labelOverlap": false,
      "titleFont": "Noto Sans",
      "titleFontSize": 44,
      "titleFontWeight": "normal",
      "titleColor": "black",
      "gridColor": "black",
      "gridDash": [1.5, 6.3],
      "gridWidth": 1.4,
      "gridOpacity": 1
    },
    "legend": {
      "fillColor": "white",
      "padding": 15,
      "offset": 10,
      "symbolType": "stroke",
      "symbolSize": 3721,
      "symbolStrokeWidth": 4,
      "clipHeight": 30,
      "labelFont": "Noto Sans",
      "labelFontSize": 28,
      "labelColor": "black",
      "labelOffset": 8,
      "rowPadding": 15,
      "labelLimit": 0
    }
  }
}
